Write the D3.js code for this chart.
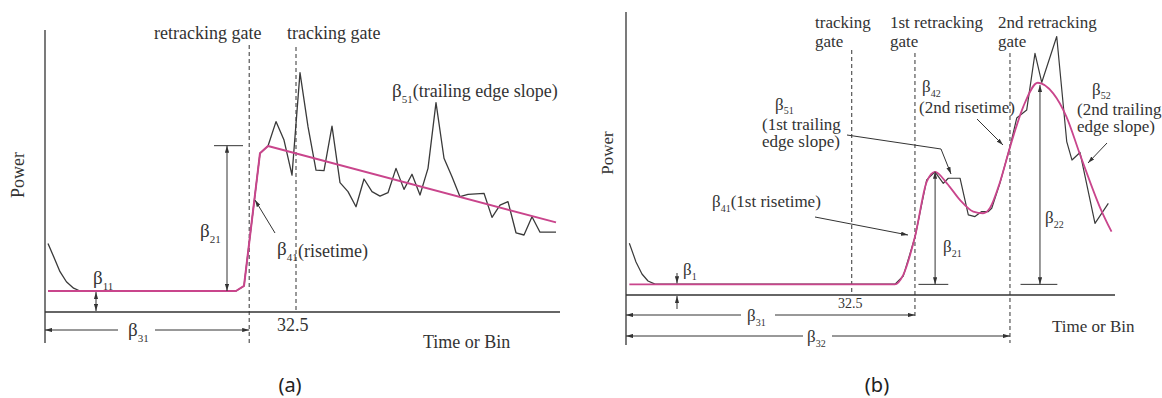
<!DOCTYPE html>
<html>
<head>
<meta charset="utf-8">
<script src="https://cdn.jsdelivr.net/npm/d3@7"></script>
<style>
  html, body { margin: 0; padding: 0; background: #fff; }
  svg { display: block; }
  text { font-family: "Liberation Serif", "Times New Roman", serif; fill: #333; }
  .panel-tag { font-family: "Noto Sans", "Open Sans", sans-serif; fill: #222; }
</style>
</head>
<body>
<svg id="chart" width="1162" height="398"></svg>
<script>
// ---------- Panel (a): single-peak waveform (bin, normalised power) ----------
const binsA = [1.5, 2.2, 3, 3.8, 4.7, 5.5,
  25, 26, 27, 28, 29, 30, 31, 32, 33, 34, 35, 36, 37, 38, 39, 40, 41, 42, 43, 44, 45,
  46, 47, 48, 49, 50, 51, 52, 53, 54, 55, 56, 57, 58, 59, 60, 61, 62, 63, 64, 65];
const powerA = [0.245, 0.198, 0.144, 0.108, 0.085, 0.075,
  0.075, 0.093, 0.33, 0.567, 0.593, 0.680, 0.614, 0.489, 0.855, 0.662, 0.507, 0.505, 0.664,
  0.462, 0.430, 0.376, 0.475, 0.430, 0.414, 0.426, 0.513, 0.438, 0.492, 0.418, 0.513, 0.748,
  0.549, 0.483, 0.412, 0.420, 0.422, 0.424, 0.338, 0.382, 0.394, 0.283, 0.275, 0.340, 0.285,
  0.285, 0.285];
// fitted model (piecewise linear)
const fitBinsA = [1.5, 25, 26, 28, 29, 65];
const fitPowerA = [0.075, 0.075, 0.093, 0.567, 0.593, 0.32];
const retrackGateA = 26.65;
const trackGateA = 32.5;

// ---------- Panel (b): two-peak waveform ----------
const binsB = [0.48, 1.44, 2.3, 3.17, 4.18, 38.73, 39.92, 41.61, 43.29, 44.49, 45.68, 46.4,
  48.09, 49.28, 50.24, 51.21, 52.16, 52.65, 53.84, 55.28, 56.25, 57.69, 58.88, 59.85,
  62.01, 63.45, 64.21, 65.36, 67.52, 69.44];
const powerB = [0.185, 0.118, 0.075, 0.05, 0.039, 0.039, 0.068, 0.207, 0.411, 0.44, 0.399, 0.417,
  0.417, 0.286, 0.28, 0.298, 0.298, 0.31, 0.4, 0.529, 0.632, 0.661, 0.863, 0.759,
  0.923, 0.548, 0.482, 0.509, 0.256, 0.327];
// fitted model (smooth double-hump)
const fitBinsB = [0.48, 38.7, 39.9, 41.6, 43.3, 44.5, 46.2, 48.1, 50.0, 51.4, 52.4, 53.8,
  55.3, 57.2, 59.3, 61.5, 63.4, 65.3, 66.7, 68.2, 69.9];
const fitPowerB = [0.038, 0.038, 0.071, 0.208, 0.405, 0.44, 0.399, 0.339, 0.298, 0.292, 0.311, 0.40,
  0.529, 0.673, 0.758, 0.72, 0.637, 0.506, 0.411, 0.315, 0.226];
const trackGateB = 32.5;
const retrackGate1B = 41.6;
const retrackGate2B = 55.28;

const INK = "#333";
const FIT = "#c9458c";

const svg = d3.select("#chart");
const defs = svg.append("defs");
defs.append("marker")
  .attr("id", "ah").attr("viewBox", "0 0 10 6")
  .attr("refX", 10).attr("refY", 3)
  .attr("markerWidth", 7).attr("markerHeight", 4.5)
  .attr("markerUnits", "userSpaceOnUse")
  .attr("orient", "auto-start-reverse")
  .append("path").attr("d", "M0,0L10,3L0,6Z").attr("fill", INK);

function line(g, pts, w, dash) {
  return g.append("path").attr("d", d3.line()(pts))
    .attr("fill", "none").attr("stroke", INK).attr("stroke-width", w || 1)
    .attr("stroke-dasharray", dash || null);
}
function arrow(g, pts, both) {
  line(g, pts, 1).attr("marker-end", "url(#ah)")
    .attr("marker-start", both ? "url(#ah)" : null);
}
function label(g, x, y, str, size, anchor) {
  return g.append("text").attr("x", x).attr("y", y)
    .attr("text-anchor", anchor || "start").style("font-size", size + "px").text(str);
}
function beta(g, x, y, sub, size, subSize, rest, restSize, drop) {
  const dy = drop === undefined ? subSize * 0.5 : drop;
  const t = g.append("text").attr("x", x).attr("y", y).style("font-size", size + "px");
  t.append("tspan").text("β");
  t.append("tspan").attr("dy", dy).style("font-size", subSize + "px").text(sub);
  if (rest) t.append("tspan").attr("dy", -dy)
    .style("font-size", (restSize || size) + "px").text(rest);
  return t;
}

// ================= Panel (a) =================
const gA = svg.append("g");
const xA = d3.scaleLinear().domain([1.125, 65.5]).range([45, 560]);
const yA = d3.scaleLinear().domain([0, 1]).range([312, 32]);
const noiseA = fitPowerA[0];

// axes
line(gA, [[xA(1.125), 30], [xA(1.125), 343]], 1.3);
line(gA, [[xA(1.125), yA(0)], [xA(65.5), yA(0)]], 1.3);

// gates
line(gA, [[xA(retrackGateA), 45], [xA(retrackGateA), 345]], 1, "4,3");
line(gA, [[xA(trackGateA), 47], [xA(trackGateA), yA(0)]], 1, "4,3");

// waveform + fit
const wfA = d3.line().x((d, i) => xA(binsA[i])).y(d => yA(d));
gA.append("path").attr("d", wfA(powerA)).attr("fill", "none")
  .attr("stroke", "#3a3a3a").attr("stroke-width", 1.3).attr("stroke-linejoin", "round");
const fitA = d3.line().x((d, i) => xA(fitBinsA[i])).y(d => yA(d));
gA.append("path").attr("d", fitA(fitPowerA)).attr("fill", "none")
  .attr("stroke", FIT).attr("stroke-width", 2).attr("stroke-linejoin", "round");

// annotations
line(gA, [[214, yA(0.594)], [243, yA(0.594)]], 1);
arrow(gA, [[227, yA(0.594)], [227, yA(noiseA)]], true);
arrow(gA, [[96, yA(noiseA) + 1], [96, yA(0) - 1]], true);
arrow(gA, [[275, 233], [255, 200]]);
arrow(gA, [[118, 330], [xA(1.125), 330]]);
arrow(gA, [[155, 330], [xA(retrackGateA), 330]]);

label(gA, 154, 39, "retracking gate", 18);
label(gA, 287, 39, "tracking gate", 18);
beta(gA, 392, 97, "51", 19, 11, "(trailing edge slope)", 18);
beta(gA, 200, 237, "21", 19, 11);
beta(gA, 93, 284, "11", 19, 11);
beta(gA, 128, 336, "31", 19, 11);
beta(gA, 277, 255, "41", 19, 11, "", 18);
label(gA, 298, 257, "(risetime)", 18);
label(gA, 277, 331, "32.5", 18);
label(gA, 423, 348, "Time or Bin", 18);
gA.append("text").attr("transform", "translate(24,175) rotate(-90)")
  .attr("text-anchor", "middle").style("font-size", "18px").text("Power");
gA.append("text").attr("class", "panel-tag").attr("x", 290).attr("y", 392)
  .attr("text-anchor", "middle").style("font-size", "20px").text("(a)");

// ================= Panel (b) =================
const gB = svg.append("g");
const xB = d3.scaleLinear().domain([0, 70.4]).range([626, 1115]);
const yB = d3.scaleLinear().domain([0, 1]).range([295, 15]);
const noiseB = fitPowerB[0];

line(gB, [[xB(0), 12], [xB(0), 345]], 1.3);
line(gB, [[xB(0), yB(0)], [xB(70.4), yB(0)]], 1.3);

line(gB, [[xB(trackGateB), 50], [xB(trackGateB), yB(0)]], 1, "4,3");
line(gB, [[xB(retrackGate1B), 53], [xB(retrackGate1B), 317]], 1, "4,3");
line(gB, [[xB(retrackGate2B), 53], [xB(retrackGate2B), 343]], 1, "4,3");

const wfB = d3.line().x((d, i) => xB(binsB[i])).y(d => yB(d));
gB.append("path").attr("d", wfB(powerB)).attr("fill", "none")
  .attr("stroke", "#3a3a3a").attr("stroke-width", 1.2).attr("stroke-linejoin", "round");
const fitB = d3.line().x((d, i) => xB(fitBinsB[i])).y(d => yB(d)).curve(d3.curveMonotoneX);
gB.append("path").attr("d", fitB(fitPowerB)).attr("fill", "none")
  .attr("stroke", FIT).attr("stroke-width", 1.8);

// amplitude arrows
const pk1 = fitPowerB[5];
arrow(gB, [[xB(44.5), yB(pk1)], [xB(44.5), yB(noiseB)]], true);
line(gB, [[xB(42.1), yB(noiseB)], [xB(46.4), yB(noiseB)]], 1);
arrow(gB, [[xB(59.6), yB(0.75)], [xB(59.6), yB(noiseB)]], true);
line(gB, [[xB(56.8), yB(noiseB)], [xB(62.1), yB(noiseB)]], 1);
// noise floor
arrow(gB, [[677, 273], [677, yB(noiseB) - 1]]);
arrow(gB, [[677, 309], [677, yB(0) + 1]]);
// bin distances
arrow(gB, [[741, 315], [xB(0), 315]]);
arrow(gB, [[775, 315], [xB(retrackGate1B), 315]]);
arrow(gB, [[803, 336], [xB(0), 336]]);
arrow(gB, [[832, 336], [xB(retrackGate2B), 336]]);
// slope / risetime pointers
arrow(gB, [[847, 135], [941, 149], [951, 174]]);
arrow(gB, [[815, 217], [908, 235]]);
arrow(gB, [[977, 119], [1003, 145]]);
arrow(gB, [[1107, 143], [1088, 163]]);

label(gB, 815, 28, "tracking", 17);
label(gB, 815, 47, "gate", 17);
label(gB, 890, 28, "1st retracking", 17);
label(gB, 890, 47, "gate", 17);
label(gB, 998, 28, "2nd retracking", 17);
label(gB, 998, 47, "gate", 17);
beta(gB, 775, 110, "51", 17, 10, "", 17, 3.5);
label(gB, 762, 130, "(1st trailing", 17);
label(gB, 762, 147, "edge slope)", 17);
beta(gB, 712, 207, "41", 17, 10, "(1st risetime)", 17);
beta(gB, 922, 92, "42", 17, 10);
label(gB, 919, 113, "(2nd risetime)", 17);
beta(gB, 1092, 95, "52", 17, 10, "", 17, 3.5);
label(gB, 1077, 115, "(2nd trailing", 17);
label(gB, 1077, 132, "edge slope)", 17);
beta(gB, 943, 252, "21", 17, 10);
beta(gB, 1045, 223, "22", 17, 10);
beta(gB, 683, 275, "1", 17, 10);
beta(gB, 747, 321, "31", 17, 10);
beta(gB, 807, 342, "32", 17, 10);
label(gB, 838, 308, "32.5", 14);
label(gB, 1052, 332, "Time or Bin", 17);
gB.append("text").attr("transform", "translate(613,153) rotate(-90)")
  .attr("text-anchor", "middle").style("font-size", "17px").text("Power");
gB.append("text").attr("class", "panel-tag").attr("x", 877).attr("y", 392)
  .attr("text-anchor", "middle").style("font-size", "20px").text("(b)");
</script>
</body>
</html>
